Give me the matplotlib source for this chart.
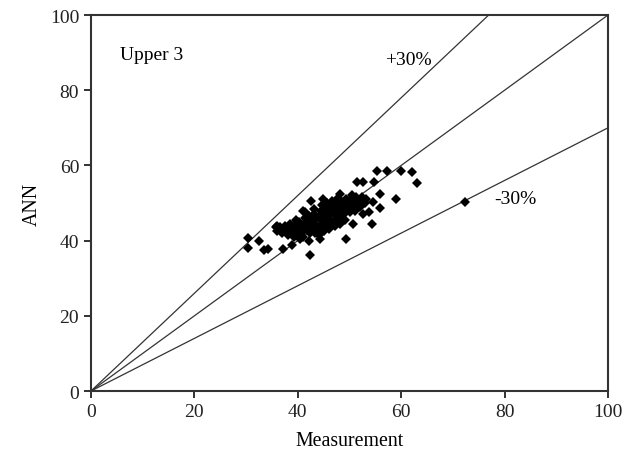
import matplotlib.pyplot as plt

plt.rcParams['font.family'] = ['Liberation Serif', 'DejaVu Serif']

# ---------- data ---------- #
# outlying points
out_x = [30.3, 30.3, 32.5, 33.4, 34.3, 37.2, 42.3, 38.8, 39.7, 35.7, 42.6, 41.3,
         55.4, 57.2, 60.0, 62.0, 63.0, 51.5, 52.7, 54.8, 55.9, 58.9, 54.6, 55.9,
         53.8, 52.7, 50.7, 54.3, 72.3, 49.4, 44.3, 41.1, 44.9, 48.2, 35.9]
out_y = [40.6, 38.0, 39.8, 37.6, 37.8, 37.7, 36.2, 38.9, 41.8, 43.6, 50.6, 47.6,
         58.6, 58.6, 58.5, 58.3, 55.4, 55.5, 55.5, 55.5, 52.4, 51.1, 50.2, 48.8,
         47.5, 47.1, 44.4, 44.4, 50.3, 40.4, 40.4, 48.0, 51.1, 52.4, 44.0]

# dense core of the cloud
core_x = [36, 36.5,
          37, 37.2, 37.5,
          38, 38.3, 38.5, 38.2,
          39, 39.3, 39.5, 39.2, 39.6,
          40, 40.2, 40.5, 40.3, 40.4,
          41, 41.2, 41.5, 41.3, 41.1, 41.4,
          42, 42.3, 42.5, 42.2, 42.4, 42.1,
          43, 43.3, 43.5, 43.2, 43.4, 43.1,
          44, 44.2, 44.5, 44.3, 44.4, 44.1, 44.6,
          45, 45.3, 45.5, 45.2, 45.4, 45.1, 45.6,
          46, 46.2, 46.5, 46.3, 46.4, 46.1, 46.6,
          47, 47.3, 47.5, 47.2, 47.4, 47.1, 47.6,
          48, 48.3, 48.5, 48.2, 48.4, 48.1,
          49, 49.2, 49.5, 49.3, 49.4, 49.1,
          50, 50.3, 50.5, 50.2, 50.4,
          51, 51.2, 51.5, 51.3,
          52, 52.3, 52.5,
          53, 53.2]
core_y = [42.5, 43.5,
          42.0, 43.0, 44.0,
          42.0, 43.5, 44.5, 41.5,
          42.5, 43.0, 44.5, 41.0, 45.5,
          42.0, 43.5, 44.5, 45.0, 40.5,
          42.5, 44.0, 45.0, 46.0, 41.0, 43.0,
          43.0, 44.5, 45.5, 46.5, 42.0, 40.0,
          43.5, 44.5, 46.0, 47.0, 42.0, 48.5,
          43.0, 44.0, 45.5, 46.5, 48.0, 41.5, 49.5,
          44.0, 45.0, 46.5, 47.5, 48.5, 42.5, 50.0,
          44.5, 45.5, 47.0, 48.0, 49.0, 43.0, 50.5,
          45.0, 46.5, 47.5, 48.5, 49.5, 44.0, 51.0,
          46.0, 47.0, 48.5, 49.5, 50.5, 44.5,
          47.0, 48.0, 49.0, 50.0, 51.0, 45.5,
          47.5, 49.0, 50.0, 51.0, 52.0,
          48.0, 49.5, 50.5, 51.5,
          49.0, 50.5, 51.5,
          50.0, 51.0]

ref_x = [0, 100]
slopes = [1.3, 1.0, 0.7]

# ---------- GRAPHING ---------- #
fig = plt.figure(figsize=(6.35, 4.6), dpi=100)
ax = fig.add_axes([0.1433, 0.1478, 0.8142, 0.8174])

for s in slopes:
    ax.plot(ref_x, [s * v for v in ref_x], color='#333333', lw=0.9)

ax.plot(core_x + out_x, core_y + out_y, 'D', color='black', ms=5.3, mew=0)

ax.text(5.6, 89.6, 'Upper 3', fontsize=14, va='center', ha='left')
ax.text(61.3, 88.3, '+30%', fontsize=14, va='center', ha='center')
ax.text(82.0, 51.3, '-30%', fontsize=14, va='center', ha='center')

ax.set_xlim(0, 100)
ax.set_ylim(0, 100)
ax.set_xticks(range(0, 101, 20))
ax.set_yticks(range(0, 101, 20))
ax.tick_params(direction='out', length=5, width=1.3, labelsize=14, colors='#222222')
ax.tick_params(top=False, right=False)
for sp in ax.spines.values():
    sp.set_linewidth(1.5)
    sp.set_color('#333333')

ax.set_xlabel('Measurement', fontsize=14.3, labelpad=8)
ax.set_ylabel('ANN', fontsize=14.3, labelpad=6)

plt.savefig('out.png')
